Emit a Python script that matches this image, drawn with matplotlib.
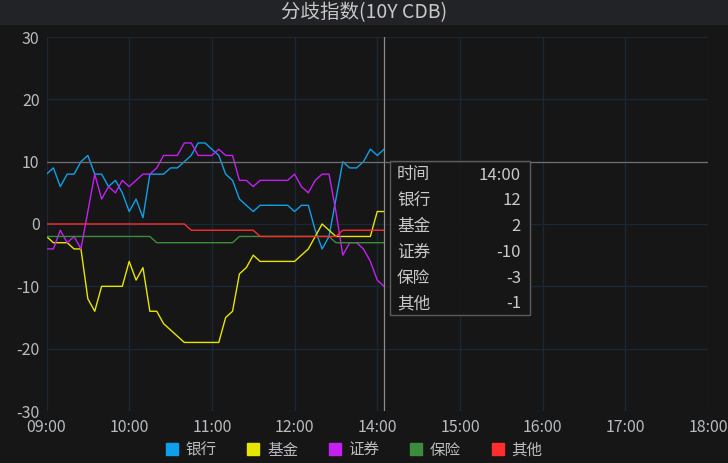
import matplotlib
matplotlib.use("Agg")
import matplotlib.pyplot as plt
from matplotlib.lines import Line2D
from matplotlib.patches import Rectangle

plt.rcParams['font.family'] = ['Noto Sans CJK SC', 'DejaVu Sans']
plt.rcParams['axes.unicode_minus'] = False

# ---------------- data ----------------
title = "分歧指数(10Y CDB)"
tick_labels = ["09:00", "10:00", "11:00", "12:00", "14:00", "15:00", "16:00", "17:00", "18:00"]
tick_step = 12          # 5-minute slots per label
n_slots = 96
y_ticks = [-30, -20, -10, 0, 10, 20, 30]
series_names = ["银行", "基金", "证券", "保险", "其他"]

bank = [8, 9, 6, 8, 8, 10, 11, 8, 8, 6,
        7, 5, 2, 4, 1, 8, 8, 8, 9, 9,
        10, 11, 13, 13, 12, 11, 8, 7, 4, 3,
        2, 3, 3, 3, 3, 3, 2, 3, 3, -1,
        -4, -2, 4, 10, 9, 9, 10, 12, 11, 12]
fund = [-2, -3, -3, -3, -4, -4, -12, -14, -10, -10,
        -10, -10, -6, -9, -7, -14, -14, -16, -17, -18,
        -19, -19, -19, -19, -19, -19, -15, -14, -8, -7,
        -5, -6, -6, -6, -6, -6, -6, -5, -4, -2,
        0, -1, -2, -2, -2, -2, -2, -2, 2, 2]
securities = [-4, -4, -1, -3, -2, -4, 2, 8, 4, 6,
              5, 7, 6, 7, 8, 8, 9, 11, 11, 11,
              13, 13, 11, 11, 11, 12, 11, 11, 7, 7,
              6, 7, 7, 7, 7, 7, 8, 6, 5, 7,
              8, 8, 2, -5, -3, -3, -4, -6, -9, -10]
insurance = [-2, -2, -2, -2, -2, -2, -2, -2, -2, -2,
             -2, -2, -2, -2, -2, -2, -3, -3, -3, -3,
             -3, -3, -3, -3, -3, -3, -3, -3, -2, -2,
             -2, -2, -2, -2, -2, -2, -2, -2, -2, -2,
             -2, -2, -3, -3, -3, -3, -3, -3, -3, -3]
other = [0, 0, 0, 0, 0, 0, 0, 0, 0, 0,
         0, 0, 0, 0, 0, 0, 0, 0, 0, 0,
         0, -1, -1, -1, -1, -1, -1, -1, -1, -1,
         -1, -2, -2, -2, -2, -2, -2, -2, -2, -2,
         -2, -2, -2, -1, -1, -1, -1, -1, -1, -1]

hover_time_label = "时间"
hover_time = "14:00"
hover_index = 49
hover_level = 10

colors = ["#0ea0ea", "#e6e600", "#c51ff2", "#3d8c3d", "#ff2e2e"]
series = [bank, fund, securities, insurance, other]

# ---------------- figure ----------------
W, H = 728, 463
BG = "#161616"
fig = plt.figure(figsize=(W / 100, H / 100), dpi=100, facecolor=BG)

# title band
fig.patches.append(Rectangle((0, 1 - 25 / H), 1, 25 / H, transform=fig.transFigure,
                             facecolor="#222326", edgecolor="none", zorder=0))
fig.text(0.5, 1 - 12.5 / H, title, ha="center", va="center", color="#c8c8c8", fontsize=14)

L, R, T, B = 46.5, 708, 37, 411
ax = fig.add_axes([L / W, 1 - B / H, (R - L) / W, (B - T) / H])
ax.set_facecolor(BG)

x = list(range(len(bank)))
for name, vals, c in zip(series_names, series, colors):
    ax.plot(x, vals, color=c, lw=1.0, label=name, zorder=3)

ax.set_xlim(0, n_slots)
ax.set_ylim(-30, 30)
ax.set_xticks(range(0, n_slots + 1, tick_step))
ax.set_xticklabels(tick_labels)
ax.set_yticks(y_ticks)
ax.tick_params(length=0, colors="#b8bcc0", labelsize=11.5)
ax.tick_params(axis="x", pad=6)
ax.tick_params(axis="y", pad=5)
for s in ax.spines.values():
    s.set_visible(False)
ax.grid(True, color="#1a2735", lw=1.0, zorder=0)
ax.set_axisbelow(True)

# crosshair
ax.axvline(hover_index, color="#8c8c8c", lw=0.9, zorder=4)
ax.axhline(hover_level, color="#707070", lw=0.9, zorder=4)

# tooltip box (pixel layout converted to axes fraction)
def fx(px):
    return (px - L) / (R - L)

def fy(py):
    return (B - py) / (B - T)

bx0, bx1, by0, by1 = 390, 530, 160.7, 315
ax.add_patch(Rectangle((fx(bx0), fy(by1)), fx(bx1) - fx(bx0), fy(by0) - fy(by1),
                       transform=ax.transAxes, facecolor=BG, alpha=0.85,
                       edgecolor="none", zorder=5, clip_on=False))
ax.add_patch(Rectangle((fx(bx0), fy(by1)), fx(bx1) - fx(bx0), fy(by0) - fy(by1),
                       transform=ax.transAxes, facecolor="none",
                       edgecolor="#5c5c5c", lw=1.0, zorder=6, clip_on=False))
rows = [(hover_time_label, hover_time)] + [
    (n, str(v[hover_index])) for n, v in zip(series_names, series)]
for k, (lab, val) in enumerate(rows):
    py = 175 + k * 25.8
    ax.text(fx(397), fy(py), lab, transform=ax.transAxes, ha="left", va="center",
            color="#c8c8c8", fontsize=12, zorder=7)
    ax.text(fx(521), fy(py), val, transform=ax.transAxes, ha="right", va="center",
            color="#c8c8c8", fontsize=12, zorder=7)

# legend
handles = [Line2D([], [], ls="none", marker="s", markersize=9, markerfacecolor=c,
                  markeredgecolor=c) for c in colors]
fig.legend(handles, series_names, loc="center", bbox_to_anchor=(354 / W, 1 - 450 / H),
           ncol=5, frameon=False, fontsize=11.2, labelcolor="#b8bcc0",
           handlelength=0.8, handletextpad=0.5, columnspacing=1.95,
           borderaxespad=0, borderpad=0)

fig.savefig("out.png", dpi=100, facecolor=BG)
